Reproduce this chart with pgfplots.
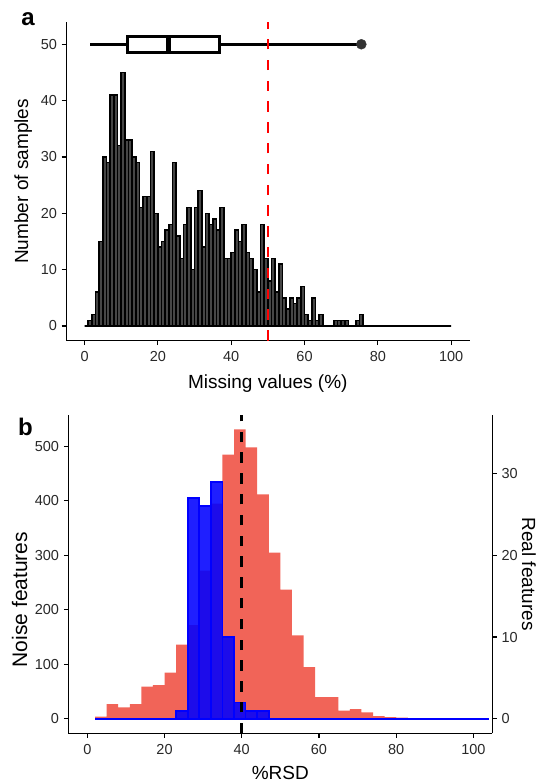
\documentclass[border=0pt]{standalone}
\usepackage{pgfplots}
\pgfplotsset{compat=1.18}
\usepackage{fontspec}
\setmainfont{Liberation Sans}
\definecolor{redfill}{RGB}{241,100,88}
\definecolor{barfill}{RGB}{70,70,70}
\definecolor{ticklab}{RGB}{40,40,40}
\newcommand{\ticksize}{\fontsize{14.5bp}{17bp}\selectfont}
\newcommand{\titlesize}{\fontsize{19bp}{22bp}\selectfont}
\pgfplotsset{
  mystyle/.style={
    scale only axis,
    anchor=south west,
    axis line style={-, line width=1.3bp, black},
    tick align=outside,
    major tick length=4.5bp,
    tick style={line width=1.2bp, black},
    /pgf/number format/assume math mode=true,
    tick label style={font=\ticksize, text=ticklab},
    label style={font=\titlesize, text=black},
    xticklabel shift=2.7bp,
    yticklabel shift=1.3bp,
  }
}
\begin{document}
\begin{tikzpicture}
\useasboundingbox (0,0) rectangle (538bp,783bp);
% ---------------- panel a ----------------
\begin{axis}[mystyle,
  at={(66.2bp,442.4bp)}, width=403.3bp, height=318.3bp,
  xmin=-5, xmax=105, ymin=-2.6, ymax=53.9,
  axis x line*=bottom, axis y line*=left,
  xtick={0,20,...,100}, ytick={0,10,...,50},
  xlabel={Missing values (\%)}, ylabel={Number of samples},
  xlabel style={at={(axis description cs:0.5,-0.1351)}, anchor=center},
  ylabel style={at={(axis description cs:-0.1064,0.5)}, anchor=center},
]
\addplot[ybar interval, fill=barfill, draw=black, line width=1.45bp] coordinates {
(0,0)(1,1)(2,2)(3,6)(4,15)(5,30)(6,29)(7,41)(8,41)(9,32)(10,45)(11,33)(12,33)(13,30)(14,29)(15,21)(16,23)(17,23)(18,31)(19,20)
(20,14)(21,15)(22,17)(23,18)(24,29)(25,16)(26,12)(27,18)(28,21)(29,10)(30,21)(31,24)(32,14)(33,20)(34,18)(35,19)(36,17)(37,21)(38,12)(39,12)
(40,13)(41,17)(42,15)(43,18)(44,13)(45,12)(46,10)(47,6)(48,18)(49,12)(50,8)(51,12)(52,6)(53,11)(54,5)(55,3)(56,5)(57,4)(58,5)(59,7)
(60,2)(61,1)(62,5)(63,1)(64,2)(65,0)(66,0)(67,0)(68,1)(69,1)(70,1)(71,1)(72,0)(73,0)(74,1)(75,2)(76,0)(77,0)(78,0)(79,0)
(80,0)(81,0)(82,0)(83,0)(84,0)(85,0)(86,0)(87,0)(88,0)(89,0)(90,0)(91,0)(92,0)(93,0)(94,0)(95,0)(96,0)(97,0)(98,0)(99,0)(100,0)};
% boxplot
\addplot[black, line width=3.2bp] coordinates {(1.6,50) (11.6,50)};
\addplot[black, line width=3.2bp] coordinates {(36.9,50) (75.5,50)};
\addplot[black, line width=3bp, fill=white] coordinates {(11.6,48.55) (36.9,48.55) (36.9,51.45) (11.6,51.45)} --cycle;
\addplot[black, line width=5bp] coordinates {(22.8,48.55) (22.8,51.45)};
\addplot[only marks, mark=*, mark size=5bp, mark options={fill=black!80, draw=black!80}] coordinates {(75.5,50)};
\addplot[red, line width=2.6bp, dash pattern=on 10.4bp off 10.4bp] coordinates {(50,-2.6) (50,53.9)};
\end{axis}
\node[font=\fontsize{24bp}{26bp}\selectfont\bfseries, anchor=center] at (28bp,764bp) {a};
% ---------------- panel b ----------------
\begin{axis}[mystyle,
  at={(68.3bp,49.7bp)}, width=424bp, height=318.3bp,
  xmin=-4.92, xmax=104.9, ymin=-26.55, ymax=557.6,
  axis x line*=bottom, axis y line*=left,
  xtick={0,20,...,100}, ytick={0,100,...,500},
  xlabel={\%RSD}, ylabel={Noise features},
  xlabel style={at={(axis description cs:0.5,-0.1247)}, anchor=center},
  ylabel style={at={(axis description cs:-0.1150,0.42)}, anchor=center, font=\fontsize{21bp}{24bp}\selectfont},
]
\addplot[ybar interval, fill=redfill, draw=none] coordinates {
(2,4)(5,27)(8,21)(11,27)(14,59)(17,62)(20,85)(23,136)(26,172)(29,272)(32,395)(35,485)(38,531)(41,498)(44,412)(47,305)(50,237)
(53,153)(56,95)(59,40)(62,40)(65,15)(68,18)(71,12)(74,5)(77,3)(80,2)(83,1)(86,0)(89,0)(92,0)(95,0)(98,0)(101,0)(104,0)};
\end{axis}
\begin{axis}[mystyle,
  at={(68.3bp,49.7bp)}, width=424bp, height=318.3bp,
  xmin=-4.92, xmax=104.9, ymin=-1.77, ymax=37.173,
  axis x line=none, axis y line*=right,
  ytick={0,10,20,30},
  ylabel={Real features},
  ylabel style={at={(axis description cs:1.0866,0.5)}, anchor=center, rotate=180},
]
\addplot[ybar interval, fill=blue, fill opacity=0.88, draw=blue, line width=1.8bp] coordinates {
(2,0)(5,0)(8,0)(11,0)(14,0)(17,0)(20,0)(23,1)(26,27)(29,26)(32,29)(35,10)(38,2)(41,1)(44,1)(47,0)(50,0)
(53,0)(56,0)(59,0)(62,0)(65,0)(68,0)(71,0)(74,0)(77,0)(80,0)(83,0)(86,0)(89,0)(92,0)(95,0)(98,0)(101,0)(104,0)};
\addplot[black, line width=2.6bp, dash pattern=on 10.4bp off 10.4bp] coordinates {(40,-1.77) (40,37.173)};
\end{axis}
\node[font=\fontsize{24bp}{26bp}\selectfont\bfseries, anchor=center] at (25.5bp,356.5bp) {b};
\end{tikzpicture}
\end{document}
